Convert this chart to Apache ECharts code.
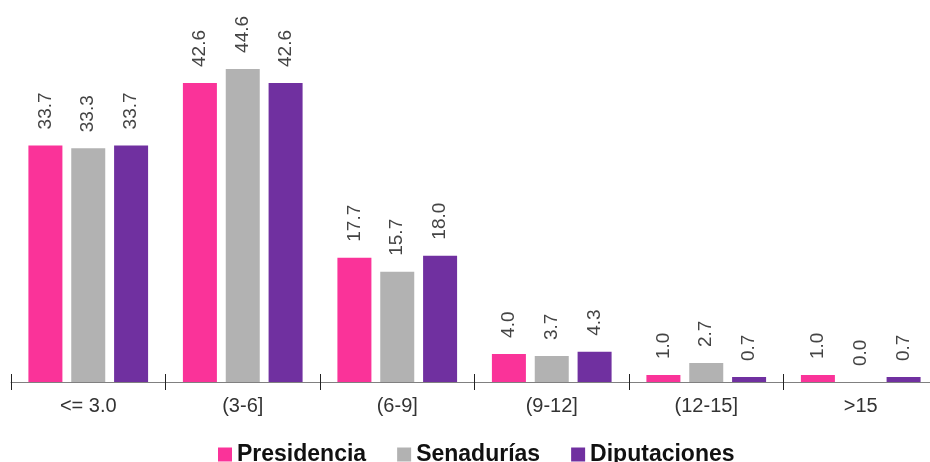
<!DOCTYPE html>
<html><head><meta charset="utf-8">
<script src="https://cdn.jsdelivr.net/npm/echarts@6/dist/echarts.min.js"></script>
<style>html,body{margin:0;padding:0;background:#fff;overflow:hidden}#c{width:942px;height:462px}</style>
</head><body><div id="c"></div>
<script>
const categories = ['<= 3.0', '(3-6]', '(6-9]', '(9-12]', '(12-15]', '>15'];
const presidencia = [33.7, 42.6, 17.7, 4.0, 1.0, 1.0];
const senadurias = [33.3, 44.6, 15.7, 3.7, 2.7, 0.0];
const diputaciones = [33.7, 42.6, 18.0, 4.3, 0.7, 0.7];
const seriesNames = ['Presidencia', 'Senadurías', 'Diputaciones'];
const colors = ['#FA3399', '#B2B2B2', '#7030A0'];

const FF = 'Liberation Sans, Arial, sans-serif';
const chart = echarts.init(document.getElementById('c'), null, {renderer: 'canvas'});
const label = {
  show: true, position: 'top', rotate: 90, align: 'left', verticalAlign: 'middle',
  distance: 16, color: '#444', fontSize: 19, fontFamily: FF,
  formatter: p => p.value.toFixed(1)
};
function mk(name, data, color) {
  return { name, type: 'bar', data, barWidth: 34, barGap: '26%', itemStyle: {color}, label, xAxisIndex: 0 };
}
chart.setOption({
  animation: false,
  textStyle: {fontFamily: FF},
  grid: {left: 11, top: 31, width: 927, height: 351},
  legend: {
    data: seriesNames, left: 213, top: 438, itemWidth: 14, itemHeight: 14, itemGap: 31,
    icon: 'rect',
    textStyle: {fontWeight: 'bold', fontSize: 23, color: '#111', fontFamily: FF}
  },
  xAxis: [{
    type: 'category', data: categories,
    axisLine: {lineStyle: {color: '#808080', width: 1}},
    axisTick: {show: true, length: 8, lineStyle: {color: '#222'}},
    axisLabel: {color: '#333', fontSize: 20, margin: 14}
  }, {
    type: 'category', data: categories, position: 'bottom',
    axisLine: {show: false},
    axisTick: {show: true, inside: true, length: 8, lineStyle: {color: '#222'}},
    axisLabel: {show: false}
  }],
  yAxis: {type: 'value', min: 0, max: 50, show: false, splitLine: {show: false}},
  series: [mk(seriesNames[0], presidencia, colors[0]), mk(seriesNames[1], senadurias, colors[1]), mk(seriesNames[2], diputaciones, colors[2])]
});
</script></body></html>
